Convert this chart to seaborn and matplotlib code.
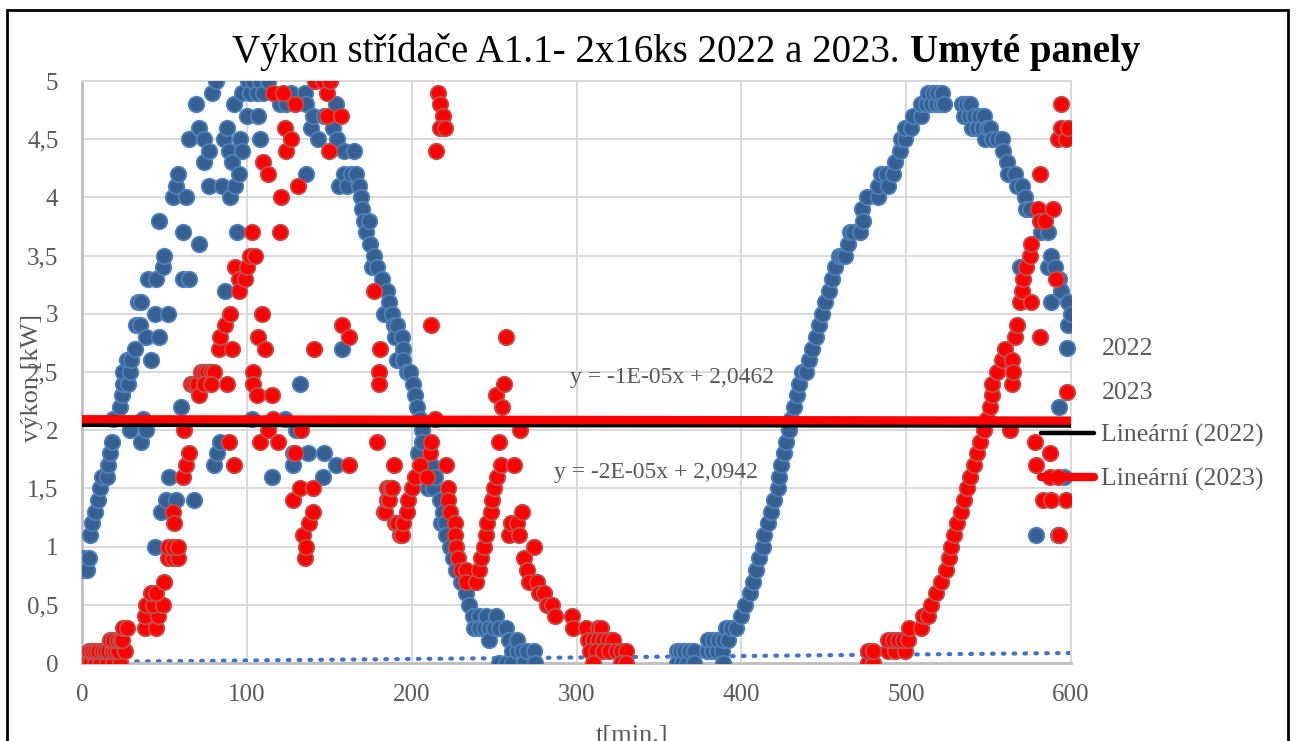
import numpy as np
import pandas as pd
import matplotlib
matplotlib.use("Agg")
import matplotlib.pyplot as plt
import seaborn as sns
from matplotlib.ticker import FuncFormatter, MultipleLocator
from matplotlib.patches import Rectangle

# ---- measured inverter output, 2022 (t in minutes, power in kW) ----
t_2022 = [0, 1, 3, 4, 5, 6, 8, 10, 11, 12, 15, 16, 17, 18, 19, 23, 24, 25, 25, 27,
          28, 29, 29, 30, 32, 33, 34, 35, 36, 36, 37, 39, 39, 40, 42, 44, 44, 45, 47, 47,
          48, 49, 50, 51, 52, 53, 55, 57, 57, 58, 60, 61, 61, 63, 65, 65, 68, 69, 71, 71,
          74, 74, 77, 77, 79, 80, 81, 82, 84, 85, 86, 87, 88, 89, 90, 91, 92, 93, 94, 95,
          96, 97, 97, 100, 101, 102, 103, 104, 106, 107, 108, 108, 110, 113, 115, 120, 123, 124, 127, 128,
          128, 130, 132, 135, 136, 136, 137, 139, 140, 143, 146, 147, 147, 151, 152, 154, 154, 155, 156, 158,
          159, 159, 161, 163, 165, 166, 168, 169, 170, 171, 172, 174, 175, 176, 177, 179, 182, 183, 185, 186,
          188, 189, 190, 191, 191, 194, 195, 195, 197, 199, 201, 202, 203, 204, 205, 206, 206, 210, 212, 213,
          214, 217, 218, 219, 220, 221, 223, 225, 227, 230, 233, 235, 237, 238, 241, 241, 244, 245, 247, 247,
          250, 251, 253, 253, 257, 257, 259, 261, 261, 264, 264, 267, 268, 270, 274, 275,
          361, 361, 363, 364, 365, 367, 368, 371, 371, 379, 380, 382, 383, 385, 386, 388, 389, 389, 391, 392,
          394, 397, 400, 402, 405, 407, 409, 411, 413, 414, 416, 418, 420, 422, 423, 424, 426, 427, 429, 430,
          432, 434, 435, 437, 439, 441, 443, 445, 447, 449, 451, 453, 455, 457, 459, 461, 463, 465, 466, 468,
          472, 473, 474, 476, 483, 483, 485, 488, 489, 492, 493, 496, 497, 499, 499, 503, 504, 509, 509, 512,
          513, 515, 516, 518, 519, 521, 522, 523, 534, 535, 536, 538, 539, 540, 541, 543, 544, 546, 547, 548,
          549, 551, 552, 555, 558, 559, 561, 562, 566, 567, 569, 570, 572, 573, 575, 579, 582, 582, 586, 586,
          588, 588, 590, 592, 593, 593, 594, 596, 598, 598, 600]
p_2022 = [0.8, 0.9, 0.8, 0.9, 1.1, 1.2, 1.3, 1.4, 1.5, 1.6, 1.6, 1.7, 1.8, 1.9, 2.1, 2.2, 2.3, 2.4, 2.5, 2.6,
          2.4, 2.5, 2.0, 2.6, 2.7, 2.9, 3.1, 2.9, 3.1, 1.9, 2.1, 2.0, 2.8, 3.3, 2.6, 3.0, 1.0, 3.3, 3.8, 2.8,
          1.3, 3.4, 3.5, 1.4, 3.0, 1.6, 4.0, 1.4, 4.1, 4.2, 2.2, 3.7, 3.3, 4.0, 3.3, 4.5, 1.4, 4.8, 3.6, 4.6,
          4.5, 4.3, 4.4, 4.1, 4.9, 1.7, 5.0, 1.8, 1.9, 4.1, 4.5, 3.2, 4.6, 4.4, 4.0, 4.3, 4.8, 4.1, 3.7, 4.2,
          4.5, 4.4, 4.9, 4.7, 5.0, 4.9, 2.1, 5.0, 4.9, 4.7, 5.0, 4.5, 4.9, 5.0, 1.6, 4.8, 2.1, 4.8, 4.9, 1.7,
          1.8, 2.0, 2.4, 4.9, 4.8, 4.2, 1.8, 4.6, 4.7, 4.5, 1.6, 1.8, 4.7, 4.7, 4.6, 4.8, 1.7, 4.5, 4.1, 2.7,
          4.4, 4.2, 4.1, 4.2, 4.4, 4.2, 4.1, 4.0, 3.9, 3.8, 3.7, 3.8, 3.6, 3.4, 3.5, 3.4, 3.3, 3.0, 3.2, 3.1,
          3.0, 2.9, 2.8, 2.9, 2.6, 2.8, 2.7, 2.6, 2.5, 2.5, 2.4, 2.3, 2.2, 1.8, 2.1, 2.0, 1.9, 1.5, 1.7, 1.5,
          1.6, 1.4, 1.2, 1.3, 1.2, 1.1, 1.0, 0.9, 0.8, 0.7, 0.6, 0.5, 0.4, 0.3, 0.4, 0.3, 0.3, 0.4, 0.3, 0.2,
          0.3, 0.4, 0.3, 0.0, 0.3, 0.0, 0.2, 0.1, 0.0, 0.1, 0.2, 0.1, 0.0, 0.1, 0.1, 0.0,
          0.1, 0.0, 0.1, 0.0, 0.1, 0.0, 0.1, 0.1, 0.0, 0.1, 0.2, 0.1, 0.2, 0.1, 0.2, 0.1, 0.0, 0.2, 0.3, 0.2,
          0.3, 0.3, 0.4, 0.5, 0.6, 0.7, 0.8, 0.9, 1.0, 1.1, 1.2, 1.3, 1.4, 1.5, 1.6, 1.7, 1.8, 1.9, 2.0, 2.1,
          2.2, 2.3, 2.4, 2.5, 2.5, 2.6, 2.7, 2.8, 2.9, 3.0, 3.1, 3.2, 3.3, 3.4, 3.5, 3.5, 3.5, 3.6, 3.7, 3.7,
          3.7, 3.9, 3.8, 4.0, 4.0, 4.1, 4.2, 4.2, 4.1, 4.2, 4.3, 4.4, 4.5, 4.5, 4.6, 4.6, 4.7, 4.7, 4.8, 4.8,
          4.9, 4.8, 4.9, 4.8, 4.9, 4.8, 4.9, 4.8, 4.8, 4.7, 4.8, 4.7, 4.8, 4.6, 4.7, 4.6, 4.7, 4.6, 4.7, 4.5,
          4.6, 4.6, 4.5, 4.5, 4.5, 4.4, 4.3, 4.2, 4.2, 4.1, 3.4, 4.1, 4.0, 3.9, 3.9, 1.1, 3.8, 3.7, 3.7, 3.4,
          3.5, 3.1, 3.4, 1.1, 3.3, 2.2, 3.2, 1.6, 3.1, 2.9, 3.0]

# ---- measured inverter output, 2023 (cleaned panels) ----
t_2023 = [3, 5, 8, 11, 15, 19, 23, 4, 6, 8, 10, 12, 14, 16, 18, 20, 22, 26, 17, 19,
          21, 23, 24, 25, 27, 38, 45, 38, 46, 39, 43, 49, 42, 45, 50, 52, 55, 58, 52, 55,
          58, 55, 56, 61, 62, 63, 65, 66, 68, 70, 71, 72, 74, 76, 78, 80, 74, 78, 83, 84,
          87, 88, 89, 90, 91, 92, 93, 95, 95, 99, 100, 102, 103, 104, 104, 105, 106, 107, 108, 109,
          110, 111, 113, 113, 115, 116, 116, 119, 120, 121, 122, 123, 124, 127, 128, 129, 129, 131, 132, 133,
          134, 135, 136, 138, 140, 140, 141, 141.5, 146.5, 148.5, 148.5, 150, 150.5, 157, 158, 162, 162, 177, 179, 180,
          180, 181, 183, 184, 185, 185, 186, 187, 188, 189, 190, 191, 193, 194, 195, 197, 198, 200, 202, 205,
          209, 211, 212, 212, 214, 215, 216, 217, 219, 217, 220, 221, 222, 222, 223, 226, 226, 227, 228, 230,
          233, 233, 239, 241, 242, 244, 245, 246, 248, 249, 250, 251, 252, 253, 254, 255, 256, 257, 259, 260,
          262, 264, 265, 266, 267, 268, 270, 271, 274, 276, 277, 280, 282, 285, 287, 297, 298, 306, 313, 315,
          307, 310, 313, 316, 319, 322, 308, 312, 316, 320, 324, 327, 330, 310, 327, 330,
          477, 480, 477, 480, 489, 493, 499, 489, 492, 495, 498, 501, 502, 509, 510, 513, 515, 518, 521, 524,
          526, 527, 529, 531, 533, 535, 537, 539, 541, 543, 545, 547, 549, 551, 552, 552, 555, 558, 560, 564,
          563, 564, 565, 566, 567, 569, 570, 571, 573, 575, 576, 576, 578, 579, 580, 581, 581, 581, 583, 584,
          587, 587, 588, 589, 591, 592, 592, 593, 594, 594, 597, 597, 598]
p_2023 = [0.0, 0.0, 0.0, 0.0, 0.0, 0.0, 0.0, 0.1, 0.1, 0.1, 0.1, 0.1, 0.1, 0.1, 0.1, 0.1, 0.1, 0.1, 0.2, 0.2,
          0.2, 0.2, 0.2, 0.3, 0.3, 0.3, 0.3, 0.4, 0.4, 0.5, 0.5, 0.5, 0.6, 0.6, 0.7, 0.9, 0.9, 0.9, 1.0, 1.0,
          1.0, 1.3, 1.2, 1.6, 2.0, 1.7, 1.8, 2.4, 2.4, 2.4, 2.3, 2.5, 2.5, 2.5, 2.5, 2.5, 2.4, 2.4, 2.7, 2.8,
          2.9, 2.4, 1.9, 3.0, 2.7, 1.7, 3.4, 3.3, 3.2, 3.3, 3.4, 3.5, 3.7, 2.5, 2.4, 3.5, 2.3, 2.8, 1.9, 3.0,
          4.3, 2.7, 4.2, 2.0, 2.3, 4.9, 2.1, 1.9, 3.7, 4.0, 4.9, 4.6, 4.4, 4.5, 1.4, 4.8, 1.8, 4.1, 1.5, 2.0,
          1.1, 0.9, 1.0, 1.2, 1.3, 1.5, 2.7, 5.0, 5.0, 4.9, 4.7, 4.4, 5.0, 4.7, 2.9, 2.8, 1.7, 3.2, 1.9, 2.5,
          2.4, 2.7, 1.3, 1.3, 1.5, 1.4, 1.4, 1.5, 1.5, 1.7, 1.2, 1.2, 1.1, 1.1, 1.2, 1.3, 1.4, 1.5, 1.6, 1.7,
          1.6, 1.8, 1.9, 2.9, 2.1, 4.4, 4.9, 4.8, 4.7, 4.6, 4.6, 1.7, 1.5, 1.4, 1.3, 1.2, 1.1, 1.0, 0.9, 0.8,
          0.8, 0.7, 0.7, 0.8, 0.9, 1.0, 1.1, 1.2, 1.3, 1.4, 1.5, 2.3, 1.6, 1.9, 1.7, 2.2, 2.4, 2.8, 1.1, 1.2,
          1.7, 1.2, 1.1, 2.0, 1.3, 0.9, 0.8, 0.7, 1.0, 0.7, 0.6, 0.6, 0.5, 0.5, 0.4, 0.4, 0.3, 0.3, 0.3, 0.3,
          0.2, 0.2, 0.2, 0.2, 0.2, 0.2, 0.1, 0.1, 0.1, 0.1, 0.1, 0.1, 0.1, 0.0, 0.0, 0.0,
          0.0, 0.0, 0.1, 0.1, 0.1, 0.1, 0.1, 0.2, 0.2, 0.2, 0.2, 0.2, 0.3, 0.3, 0.4, 0.4, 0.5, 0.6, 0.7, 0.8,
          0.9, 1.0, 1.1, 1.2, 1.3, 1.4, 1.5, 1.6, 1.7, 1.8, 1.9, 2.0, 2.1, 2.2, 2.3, 2.4, 2.5, 2.6, 2.7, 2.6,
          2.0, 2.4, 2.5, 2.8, 2.9, 3.1, 3.2, 3.3, 3.4, 3.5, 3.6, 3.1, 1.9, 1.7, 3.9, 3.8, 4.2, 2.8, 1.4, 3.8,
          1.8, 1.6, 1.4, 3.9, 3.3, 1.6, 4.5, 1.1, 4.8, 4.6, 4.5, 1.4, 4.6]

# ---- linear trend coefficients (slope, intercept) ----
trend_2022 = (-1e-05, 2.0462)
trend_2023 = (-2e-05, 2.0942)
trend_aux = (1.28e-04, 0.009)
trend_labels = ["y = -1E-05x + 2,0462", "y = -2E-05x + 2,0942"]

title_plain = "Výkon střídače A1.1- 2x16ks 2022 a 2023. "
title_bold = "Umyté panely"
x_ticks = [0, 100, 200, 300, 400, 500, 600]

sns.set_theme(style="white")
serif = ["Liberation Serif", "DejaVu Serif"]
plt.rcParams["font.family"] = serif
GREY = "#595959"

W, H, DPI = 1296, 741, 100
fig = plt.figure(figsize=(W / DPI, H / DPI), dpi=DPI)
ax = fig.add_axes([82 / W, 1 - 663 / H, (1071 - 82) / W, (663 - 81) / H])

df22 = pd.DataFrame({"t": t_2022, "p": p_2022})
df23 = pd.DataFrame({"t": t_2023, "p": p_2023})
span = np.array([0.0, 600.0])


def trend_frame(coef):
    return pd.DataFrame({"t": span, "p": coef[0] * span + coef[1]})


# faint auxiliary trend near zero
sns.lineplot(data=trend_frame(trend_aux), x="t", y="p", ax=ax, color="#4472C4",
             linewidth=3.0, linestyle=(0, (0.4, 2.2)), dash_capstyle="round",
             zorder=2, legend=False)

sns.scatterplot(data=df22, x="t", y="p", ax=ax, s=125, color="#366092",
                edgecolor="#4F81BD", linewidth=1.3, zorder=3, label="2022")
sns.scatterplot(data=df23, x="t", y="p", ax=ax, s=125, color="#FF0000",
                edgecolor="#C0504D", linewidth=1.3, zorder=4, label="2023")

sns.lineplot(data=trend_frame(trend_2022), x="t", y="p", ax=ax, color="black",
             linewidth=3.2, zorder=5, label="Lineární (2022)")
sns.lineplot(data=trend_frame(trend_2023), x="t", y="p", ax=ax, color="#FF0000",
             linewidth=6.0, zorder=6, label="Lineární (2023)")

ax.set_xlim(0, 600)
ax.set_ylim(0, 5)
ax.set_xticks(x_ticks)
ax.yaxis.set_major_locator(MultipleLocator(0.5))
ax.yaxis.set_major_formatter(FuncFormatter(lambda v, _: f"{v:g}".replace(".", ",")))
ax.grid(True, color="#D9D9D9", linewidth=1.4)
ax.set_axisbelow(True)
for side in ["top", "right"]:
    ax.spines[side].set_color("#D9D9D9")
    ax.spines[side].set_linewidth(1.4)
for side in ["left", "bottom"]:
    ax.spines[side].set_color("#BFBFBF")
    ax.spines[side].set_linewidth(2.0)
ax.tick_params(axis="both", length=0, labelsize=18, labelcolor=GREY)
ax.tick_params(axis="y", pad=17)
ax.tick_params(axis="x", pad=15)

ax.set_xlabel("t[min.]", fontsize=19, color=GREY)
ax.set_ylabel("výkon [kW]", fontsize=19, color=GREY)
ax.xaxis.set_label_coords((632 - 82) / (1071 - 82), -(725 - 663) / (663 - 81))
ax.yaxis.set_label_coords((43 - 82) / (1071 - 82), (663 - 378) / (663 - 81))

# trend equations
ax.text(358, 2.45, trend_labels[0], fontsize=17, color=GREY, ha="center", va="center", zorder=7)
ax.text(348, 1.64, trend_labels[1], fontsize=17, color=GREY, ha="center", va="center", zorder=7)

# legend on the right edge
handles, labels = ax.get_legend_handles_labels()
order = ["2022", "2023", "Lineární (2022)", "Lineární (2023)"]
hmap = dict(zip(labels, handles))
leg = ax.legend([hmap[k] for k in order], order, loc="upper left",
                bbox_to_anchor=(1041 / W, 1 - 337 / H), bbox_transform=fig.transFigure,
                frameon=False, fontsize=18.5, handlelength=2.05, handletextpad=0.3,
                labelspacing=0.8, borderpad=0, borderaxespad=0, markerscale=1.0)
for txt in leg.get_texts():
    txt.set_color(GREY)

# two-weight title centred over the figure
t1 = fig.text(0, 0, title_plain, fontsize=28, color="black", va="baseline")
t2 = fig.text(0, 0, title_bold, fontsize=28, color="black", fontweight="bold", va="baseline")
fig.canvas.draw()
r = fig.canvas.get_renderer()
w1 = t1.get_window_extent(r).width
w2 = t2.get_window_extent(r).width
x0 = 686 - (w1 + w2) / 2
base = 1 - 62 / H
t1.set_position((x0 / W, base))
t2.set_position(((x0 + w1) / W, base))

# outer frame
fig.patches.append(Rectangle((7 / W, -0.05), (1288 - 7) / W, 1.05 - 10 / H,
                             transform=fig.transFigure, fill=False,
                             edgecolor="black", linewidth=2.0, zorder=10))

fig.savefig("out.png", dpi=DPI)
